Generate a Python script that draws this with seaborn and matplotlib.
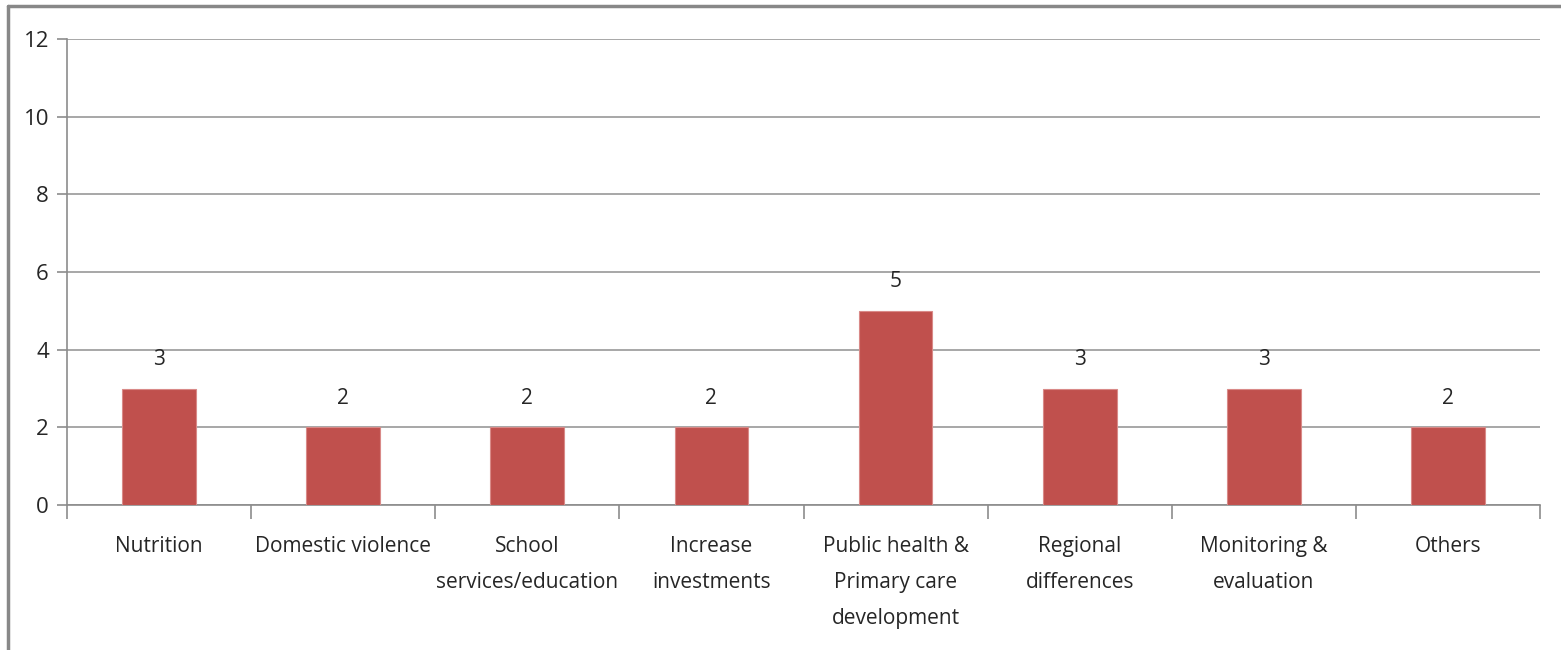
import matplotlib
matplotlib.use("Agg")
import matplotlib.pyplot as plt
import seaborn as sns
import pandas as pd
from matplotlib.lines import Line2D

categories = ["Nutrition", "Domestic violence", "School\nservices/education",
              "Increase\ninvestments", "Public health &\nPrimary care\ndevelopment",
              "Regional\ndifferences", "Monitoring &\nevaluation", "Others"]
counts = [3, 2, 2, 2, 5, 3, 3, 2]
y_ticks = [0, 2, 4, 6, 8, 10, 12]

df = pd.DataFrame({"cat": categories, "n": counts})

sns.set_style("white")
plt.rcParams["font.family"] = ["Liberation Sans Narrow", "Open Sans", "DejaVu Sans"]

fig = plt.figure(figsize=(15.61, 6.5), dpi=100)
ax = fig.add_axes([67 / 1561, 1 - 505 / 650, (1540 - 67) / 1561, (505 - 39) / 650])

sns.barplot(data=df, x="cat", y="n", color="#C0504D", width=0.4, ax=ax,
            saturation=1, edgecolor="#D98A88", linewidth=0.8, zorder=3)

ax.set_ylim(0, 12)
ax.set_xlim(-0.5, len(categories) - 0.5)
ax.set_yticks(y_ticks)
ax.yaxis.grid(True, color="#A0A0A0", linewidth=1.3, zorder=0)
ax.set_xlabel("")
ax.set_ylabel("")

for s in ["top", "right"]:
    ax.spines[s].set_visible(False)
for s in ["left", "bottom"]:
    ax.spines[s].set_color("#8C8C8C")
    ax.spines[s].set_linewidth(1.2)

ax.tick_params(axis="y", length=7, width=1.2, color="#8C8C8C", labelsize=16, pad=6, left=True)
# category boundaries as ticks
ax.set_xticks([i - 0.5 for i in range(len(categories) + 1)], minor=False)
ax.set_xticklabels([])
ax.set_xticks(range(len(categories)), minor=True)
ax.set_xticklabels(categories, minor=True, fontsize=15, linespacing=1.95, va="top")
ax.tick_params(axis="x", which="major", length=10, width=1.2, color="#8C8C8C", bottom=True)
ax.tick_params(axis="x", which="minor", length=0, pad=22)

for i, v in enumerate(counts):
    ax.annotate(str(v), (i, v), xytext=(0, 21), textcoords="offset points",
                ha="center", va="center", fontsize=15)

# outer chart frame
fig.add_artist(Line2D([8 / 1561, 8 / 1561], [0, 1 - 6 / 650], transform=fig.transFigure,
                      color="#888888", linewidth=2.5))
fig.add_artist(Line2D([8 / 1561, 1], [1 - 6 / 650, 1 - 6 / 650], transform=fig.transFigure,
                      color="#888888", linewidth=2.5))

fig.savefig("out.png", dpi=100)
